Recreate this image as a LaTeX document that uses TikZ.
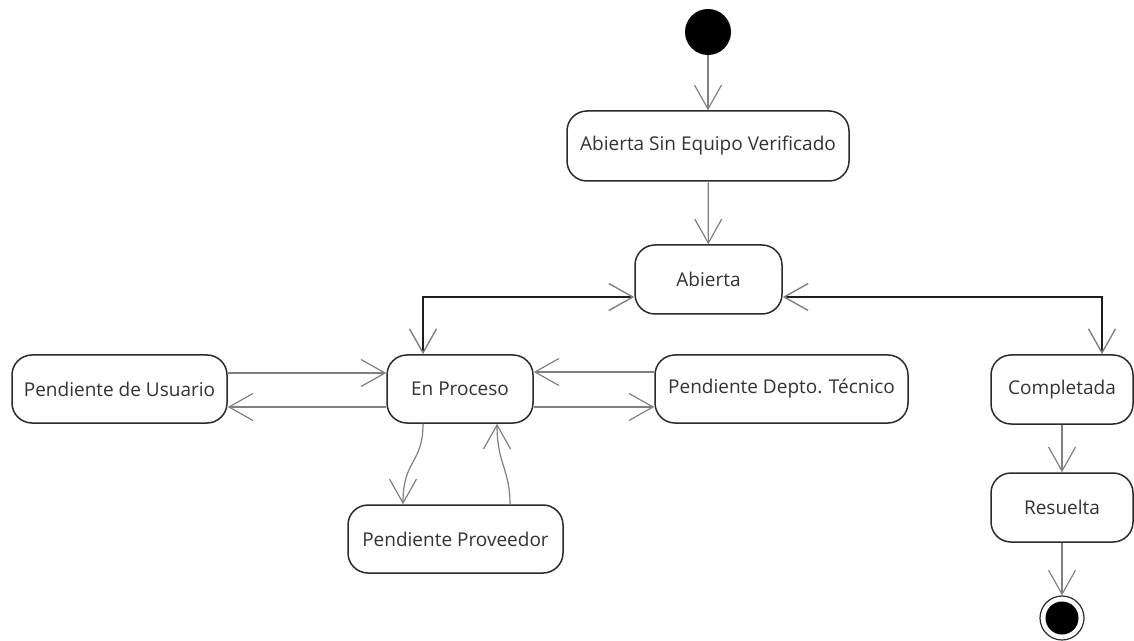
\documentclass[tikz,border=0pt]{standalone}
\usepackage{fontspec}
\setmainfont{Open Sans}
\usetikzlibrary{arrows.meta,calc}
\definecolor{lgray}{HTML}{808080}
\definecolor{bord}{HTML}{2B2B2B}
\definecolor{txt}{HTML}{333333}
\definecolor{dark}{HTML}{1E1E1E}
\begin{document}
\begin{tikzpicture}[x=0.5pt,y=-0.5pt,
  state/.style={draw=bord, line width=0.75pt, rounded corners=10pt, fill=white,
    font=\fontsize{9.5}{11}\selectfont, text=txt, inner sep=0pt},
  startnode/.style={circle, fill=black, minimum size=23pt, inner sep=0pt},
  conn/.style={draw=lgray, line width=0.6pt, -{Straight Barb[length=12pt,width=13.5pt]}},
  bidir/.style={draw=dark, line width=0.7pt,
    {Straight Barb[length=12pt,width=13.5pt,color=lgray]}-{Straight Barb[length=12pt,width=13.5pt,color=lgray]}},
]
\useasboundingbox (0,0) rectangle (1134,641);
\node[startnode] (start) at (708,32) {};
\node[state, minimum width=141pt, minimum height=35pt] (asev) at (708,146) {Abierta Sin Equipo Verificado};
\node[state, minimum width=73.5pt, minimum height=34.5pt] (abierta) at (708.5,279.5) {Abierta};
\node[state, minimum width=107.5pt, minimum height=34pt] (usuario) at (119.5,389) {Pendiente de Usuario};
\node[state, minimum width=73pt, minimum height=34pt] (proceso) at (460,389) {En Proceso};
\node[state, minimum width=126.5pt, minimum height=34pt] (tecnico) at (781.5,389) {Pendiente Depto. Técnico};
\node[state, minimum width=71pt, minimum height=34.5pt] (completada) at (1062,389.5) {Completada};
\node[state, minimum width=107.5pt, minimum height=34pt] (proveedor) at (455.5,539) {Pendiente Proveedor};
\node[state, minimum width=71pt, minimum height=34.5pt] (resuelta) at (1062,507.5) {Resuelta};
\node[circle, draw=bord, line width=0.6pt, minimum size=22pt, inner sep=0pt] (fin) at (1062,618) {};
\node[circle, fill=black, minimum size=16.5pt, inner sep=0pt] (finin) at (fin) {};

\draw[conn] (start) -- (asev);
\draw[conn] (asev) -- (abierta);
\draw[bidir] ($(abierta.west)+(0,17.5)$) -| ($(proceso.north)+(-37,0)$);
\draw[bidir] ($(abierta.east)+(0,17.5)$) -| ($(completada.north)+(40,0)$);
\draw[conn] ($(usuario.east)+(0,-16)$) -- ($(proceso.west)+(0,-16)$);
\draw[conn] ($(proceso.west)+(0,18)$) -- ($(usuario.east)+(0,18)$);
\draw[conn] ($(tecnico.west)+(0,-17)$) -- ($(proceso.east)+(0,-17)$);
\draw[conn] ($(proceso.east)+(0,18)$) -- ($(tecnico.west)+(0,18)$);
\draw[conn] ($(proceso.south)+(-37,0)$) .. controls +(0,40) and +(0,-45) .. ($(proveedor.north)+(-52.5,0)$);
\draw[conn] ($(proveedor.north)+(54.5,0)$) .. controls +(0,-35) and +(0,40) .. ($(proceso.south)+(37,0)$);
\draw[conn] (completada) -- (resuelta);
\draw[conn] (resuelta) -- (fin);
\end{tikzpicture}
\end{document}
